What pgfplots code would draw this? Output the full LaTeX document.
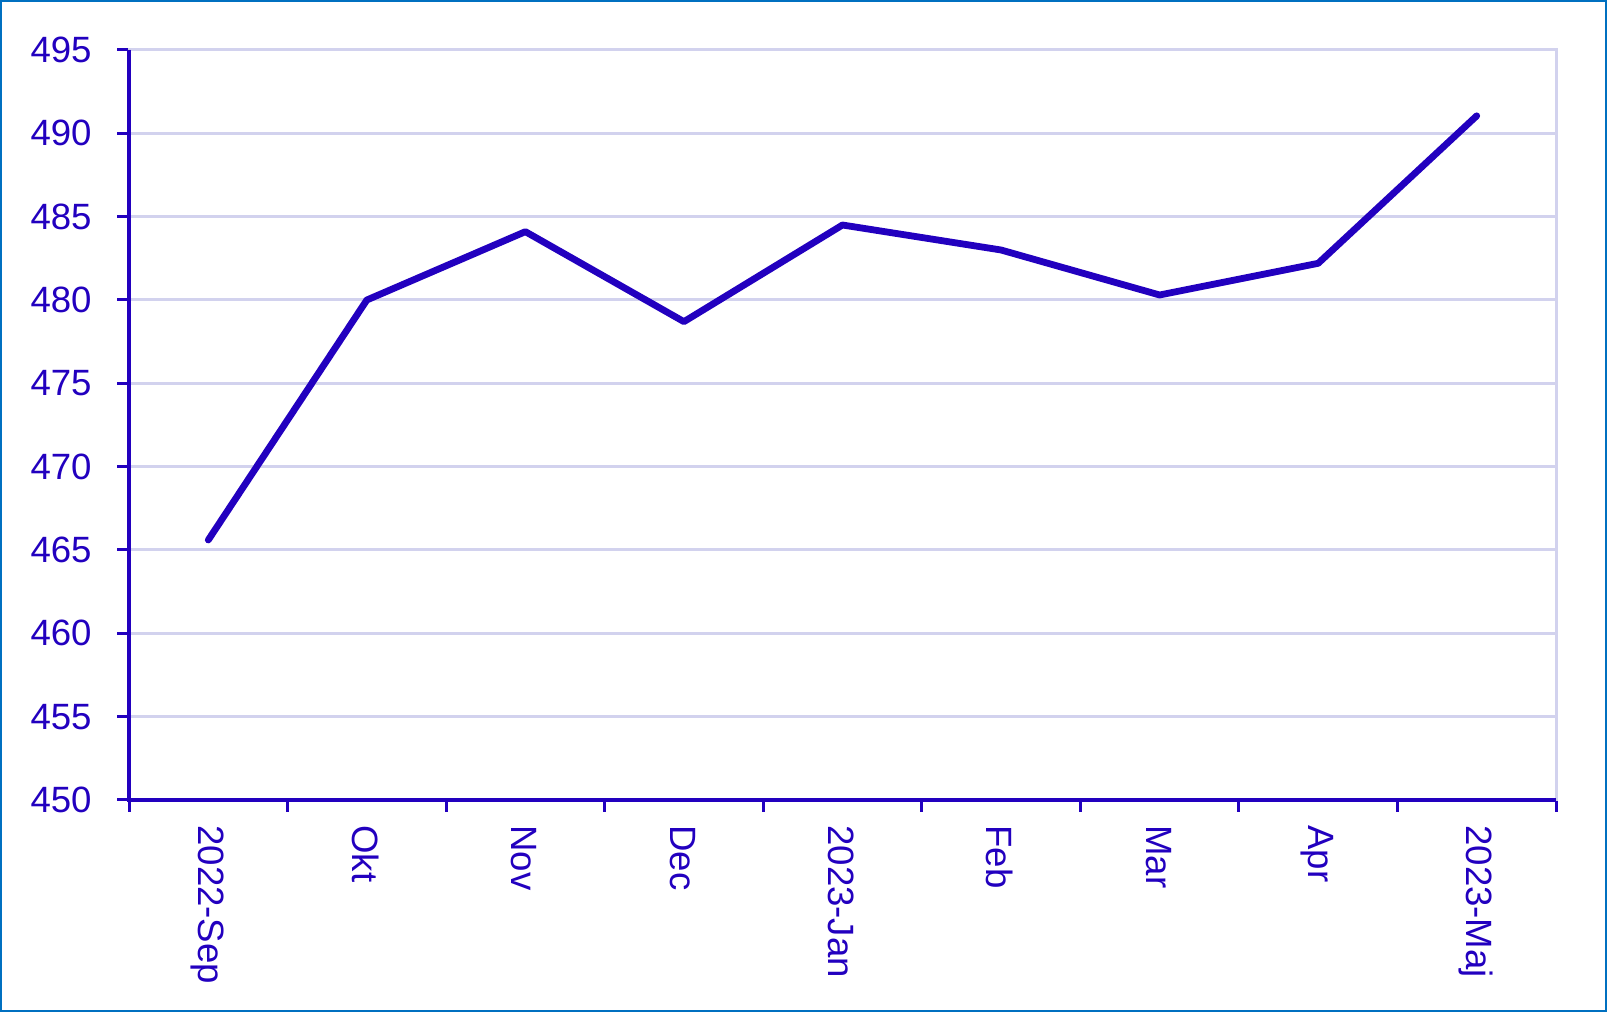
\documentclass[border=0pt]{standalone}
\usepackage{pgfplots}
\pgfplotsset{compat=1.18}
\usepackage{fontspec}
\setmainfont{Liberation Sans}
\definecolor{dblue}{HTML}{2200BF}
\definecolor{lav}{HTML}{D2D2EE}
\definecolor{frameblue}{HTML}{0070C0}
\begin{document}
\begin{tikzpicture}[x=1pt,y=1pt]
\draw[frameblue, line width=1pt] (0.5,0.5) rectangle (803,505.5);
\begin{axis}[
  at={(64.5pt,106pt)}, anchor=south west,
  scale only axis, width=713.5pt, height=375pt,
  xmin=-0.5, xmax=8.5, ymin=450, ymax=495,
  axis line style={lav, line width=1.5pt},
  xtick={0,...,8},
  xticklabels={2022-Sep,Okt,Nov,Dec,2023-Jan,Feb,Mar,Apr,2023-Maj},
  minor xtick={-0.5,0.5,...,8.5},
  xtick pos=bottom, ytick pos=left,
  tick align=outside,
  major tick length=6pt, minor tick length=6pt,
  x tick style={draw=none},
  minor x tick style={draw=dblue, line width=1.5pt},
  y tick style={draw=dblue, line width=1.5pt},
  ytick={450,455,...,495},
  ymajorgrids, major grid style={lav, line width=1.5pt},
  /pgf/number format/assume math mode=true,
  ticklabel style={font=\fontsize{18.3}{21}\selectfont, text=dblue},
  xticklabel style={rotate=-90, anchor=west, inner sep=0pt, xshift=6.5pt, yshift=-0.5pt},
  yticklabel style={anchor=east, inner sep=0pt, xshift=-12.5pt},
  clip=false,
]
\addplot[dblue, line width=3.4pt, line cap=round, line join=round] coordinates {
(0,465.6) (1,480.0) (2,484.1) (3,478.7) (4,484.5) (5,483.0) (6,480.3) (7,482.2) (8,491.05)
};
\draw[dblue, line width=1.6pt] (rel axis cs:0,1) -- (rel axis cs:0,0) -- (rel axis cs:1,0);
\end{axis}
\end{tikzpicture}
\end{document}
